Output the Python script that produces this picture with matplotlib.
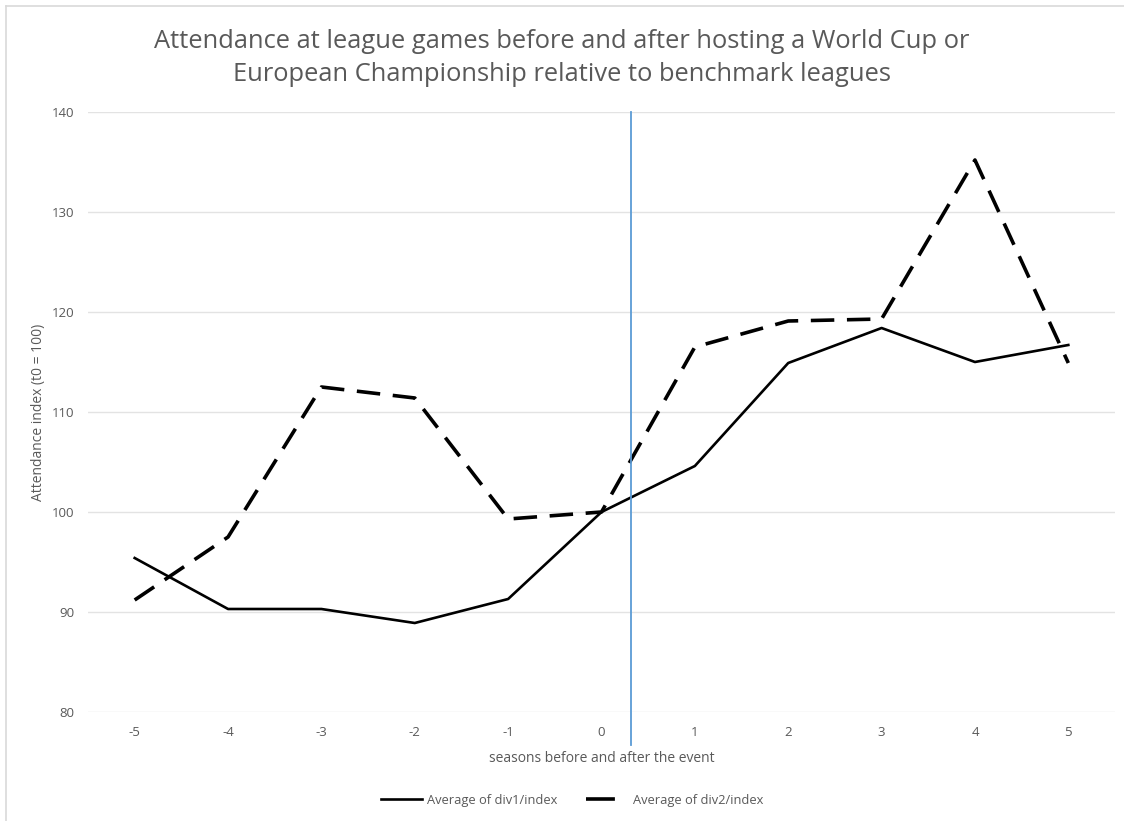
import matplotlib
matplotlib.use('Agg')
import matplotlib.pyplot as plt
from matplotlib.lines import Line2D

# seasons relative to the tournament (0 = hosting season)
seasons = [-5, -4, -3, -2, -1, 0, 1, 2, 3, 4, 5]
div1_index = [95.4, 90.3, 90.3, 88.9, 91.3, 100.0, 104.6, 114.9, 118.4, 115.0, 116.7]
div2_index = [91.2, 97.5, 112.5, 111.4, 99.3, 100.0, 116.5, 119.1, 119.3, 135.2, 114.9]
event_pos = 0.32
y_ticks = [80, 90, 100, 110, 120, 130, 140]

plt.rcParams['font.family'] = ['Open Sans', 'DejaVu Sans']
text_grey = '#595959'

W, H = 1124, 821
fig = plt.figure(figsize=(W / 100, H / 100), dpi=100)

# chart area border (top and left edges visible)
fig.add_artist(Line2D([6 / W, 6 / W], [0, 1 - 6 / H], transform=fig.transFigure,
                      color='#d9d9d9', lw=1.2))
fig.add_artist(Line2D([6 / W, 1], [1 - 6 / H, 1 - 6 / H], transform=fig.transFigure,
                      color='#d9d9d9', lw=1.2))

ax = fig.add_axes([88 / W, 1 - 712 / H, (1115 - 88) / W, 600 / H])
xs = list(range(len(seasons)))
ax.plot(xs, div1_index, color='black', lw=1.9)
ax.plot(xs, div2_index, color='black', lw=2.6, dashes=(6.5, 3.5))

ax.axvline(seasons.index(0) + event_pos, ymin=-0.055, ymax=1, color='#5b9bd5',
           lw=1.3, clip_on=False, zorder=3)

ax.set_xlim(-0.5, len(seasons) - 0.5)
ax.set_ylim(80, 140)
ax.set_xticks(xs)
ax.set_xticklabels([str(s) for s in seasons])
ax.set_yticks(y_ticks)
ax.grid(axis='y', color='#e3e3e3', lw=1)
ax.set_axisbelow(True)
for s in ax.spines.values():
    s.set_visible(False)
ax.tick_params(length=0, colors=text_grey, labelsize=9.5)
ax.tick_params(axis='x', pad=10)
ax.tick_params(axis='y', pad=10)

ax.set_xlabel('seasons before and after the event', color=text_grey, fontsize=10, labelpad=9)
ax.set_ylabel('Attendance index (t0 = 100)', color=text_grey, fontsize=10, labelpad=4)

fig.text(0.5, 1 - 58 / H,
         'Attendance at league games before and after hosting a World Cup or\n'
         'European Championship relative to benchmark leagues',
         ha='center', va='center', fontsize=18.4, color=text_grey, linespacing=1.45)

# legend handles: one solid line, one single long dash
handles = [
    Line2D([], [], color='black', lw=1.9),
    Line2D([], [], color='black', lw=2.6, linestyle=(0, (8, 20))),
]
labels = ['Average of div1/index', 'Average of div2/index']
fig.legend(handles, labels, loc='center', bbox_to_anchor=(572 / W, 1 - 800 / H), ncol=2,
           frameon=False, fontsize=9.3, labelcolor=text_grey, handlelength=3.2,
           handletextpad=0.4, columnspacing=2.2)

fig.savefig('out.png', dpi=100)
